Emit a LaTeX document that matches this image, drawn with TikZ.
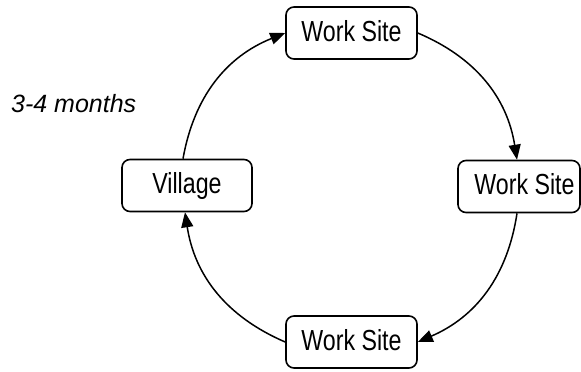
\documentclass[tikz,border=0pt]{standalone}
\usepackage{fontspec}
\setmainfont{Liberation Sans}[FakeStretch=0.8]
\newfontfamily\plainsans{Liberation Sans}
\usetikzlibrary{arrows.meta}
\tikzset{
  site/.style={draw, line width=1.6pt, rounded corners=8pt, minimum height=52pt,
    inner sep=0pt, text height=21pt, text depth=5pt,
    font=\fontsize{29}{33}\selectfont},
  flow/.style={line width=1.5pt, -{Triangle[length=15pt,width=12pt]}, bend left=29},
  note/.style={inner sep=0pt, anchor=base west,
    font=\plainsans\itshape\fontsize{25}{29}\selectfont}
}
\begin{document}
\begin{tikzpicture}[x=1pt,y=1pt]
\useasboundingbox (0,0) rectangle (581,-372);
\clip (0,0) rectangle (581,-372);
\node[site, minimum width=131pt] (t) at (351.5,-33) {Work Site};
\node[site, minimum width=122pt] (r) at (519,-186.5) {\hspace*{11pt}Work Site};
\node[site, minimum width=131pt] (b) at (351.5,-342) {Work Site};
\node[site, minimum width=130pt] (v) at (187,-185.5) {Village};
\node[note] (n) at (11,-112) {3-4 months};
\draw[flow] ([xshift=-4pt]v.north) to (t.west);
\draw[flow] (t.east) to ([xshift=-2pt]r.north);
\draw[flow] ([xshift=-2pt]r.south) to (b.east);
\draw[flow] (b.west) to ([xshift=-2pt]v.south);
\end{tikzpicture}
\end{document}
